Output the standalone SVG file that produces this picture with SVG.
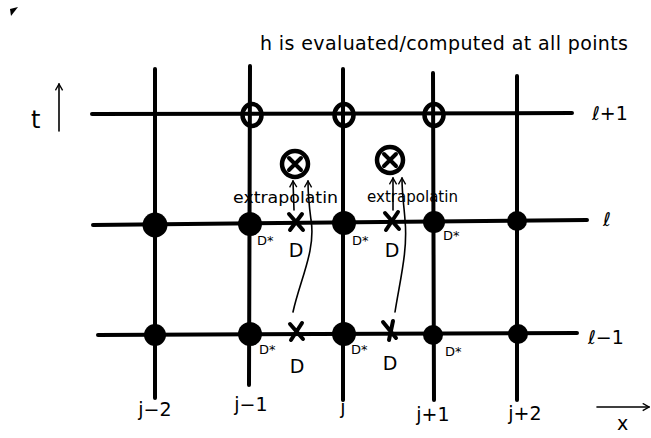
<svg xmlns="http://www.w3.org/2000/svg" width="651" height="438" viewBox="0 0 651 438">
<defs>
<style>
.ln{stroke:#000;stroke-width:4;stroke-linecap:round;fill:none}
.thin{stroke:#000;stroke-width:1.6;stroke-linecap:round;fill:none}
.dot{fill:#000}
.ocirc{fill:none;stroke:#000;stroke-width:4.5}
.tx{font-family:"DejaVu Sans","Liberation Sans",sans-serif;fill:#000}
.lbl{font-size:19px}
.ds{font-size:13px}
.ex{font-size:16px}
</style>
<marker id="ah" viewBox="0 0 10 10" refX="9" refY="5" markerWidth="9" markerHeight="9" orient="auto" markerUnits="userSpaceOnUse">
<path d="M2,1 L9,5 L2,9" fill="none" stroke="#000" stroke-width="1.5"/>
</marker>
</defs>
<rect width="651" height="438" fill="#fff"/>
<polygon points="10,9 18,7 11,16" fill="#000"/>

<text class="tx" x="260" y="50" font-size="19" textLength="368" lengthAdjust="spacing">h is evaluated/computed at all points</text>

<g id="axis-t">
<text class="tx" x="31" y="128" font-size="24">t</text>
<line class="thin" x1="59" y1="131" x2="59" y2="84" marker-end="url(#ah)"/>
</g>
<g id="axis-x">
<line class="thin" x1="597" y1="407" x2="649" y2="407" marker-end="url(#ah)"/>
<text class="tx lbl" x="617" y="430">x</text>
</g>

<g id="grid">
<line class="ln" x1="92" y1="114" x2="572" y2="113"/>
<line class="ln" x1="93" y1="225" x2="587" y2="220"/>
<line class="ln" x1="98" y1="335" x2="577" y2="333"/>
<line class="ln" x1="155" y1="69" x2="155" y2="398"/>
<line class="ln" x1="250" y1="66" x2="249" y2="385"/>
<line class="ln" x1="343" y1="69" x2="343" y2="400"/>
<line class="ln" x1="433" y1="73" x2="434" y2="400"/>
<line class="ln" x1="517" y1="76" x2="517" y2="400"/>
</g>

<g id="row-labels">
<text class="tx lbl" x="592" y="120" font-size="20">ℓ+1</text>
<text class="tx lbl" x="603" y="226" font-size="20">ℓ</text>
<text class="tx lbl" x="588" y="344" font-size="20">ℓ−1</text>
</g>
<g id="col-labels">
<text class="tx lbl" x="155" y="416" text-anchor="middle">j−2</text>
<text class="tx lbl" x="251" y="411" text-anchor="middle">j−1</text>
<text class="tx lbl" x="343" y="414" text-anchor="middle">j</text>
<text class="tx lbl" x="433" y="421" text-anchor="middle">j+1</text>
<text class="tx lbl" x="525" y="420" text-anchor="middle">j+2</text>
</g>

<g id="n-l1-jm1"><ellipse class="ocirc" cx="252" cy="115" rx="9.5" ry="11"/></g>
<g id="n-l1-j"><ellipse class="ocirc" cx="344" cy="115" rx="9.5" ry="11"/></g>
<g id="n-l1-jp1"><ellipse class="ocirc" cx="434" cy="115" rx="9.5" ry="11"/></g>

<g id="n-ex1"><circle class="ocirc" cx="295" cy="164" r="13" stroke-width="5"/><path class="ln" d="M289,158 L301,170 M301,158 L289,170"/></g>
<g id="n-ex2"><circle class="ocirc" cx="390" cy="160" r="13" stroke-width="5"/><path class="ln" d="M384,154 L396,166 M396,154 L384,166"/></g>
<text class="tx ex" x="233" y="203" textLength="105" lengthAdjust="spacingAndGlyphs">extrapolatin</text>
<text class="tx ex" x="367" y="202" textLength="91" lengthAdjust="spacingAndGlyphs">extrapolatin</text>

<g id="n-l-jm2"><circle class="dot" cx="155" cy="225" r="12.5"/></g>
<g id="n-l-jm1"><circle class="dot" cx="250" cy="224" r="12"/><text class="tx ds" x="257" y="245">D*</text></g>
<g id="n-l-j"><circle class="dot" cx="344" cy="223" r="12"/><text class="tx ds" x="352" y="245">D*</text></g>
<g id="n-l-jp1"><circle class="dot" cx="434" cy="222" r="11"/><text class="tx ds" x="443" y="240">D*</text></g>
<g id="n-l-jp2"><circle class="dot" cx="517" cy="221" r="10"/></g>

<g id="n-lm1-jm2"><circle class="dot" cx="155" cy="335" r="11"/></g>
<g id="n-lm1-jm1"><circle class="dot" cx="250" cy="334" r="12"/><text class="tx ds" x="259" y="354">D*</text></g>
<g id="n-lm1-j"><circle class="dot" cx="344" cy="334" r="12"/><text class="tx ds" x="351" y="354">D*</text></g>
<g id="n-lm1-jp1"><circle class="dot" cx="433" cy="335" r="10"/><text class="tx ds" x="445" y="356">D*</text></g>
<g id="n-lm1-jp2"><circle class="dot" cx="518" cy="334" r="10"/></g>

<g id="n-D1"><path class="ln" d="M289,214 L303,230 M302,214 L290,230"/><text class="tx lbl" x="296" y="257" text-anchor="middle">D</text></g>
<g id="n-D2"><path class="ln" d="M385,213 L399,229 M398,212 L386,230"/><text class="tx lbl" x="392" y="257" text-anchor="middle">D</text></g>
<g id="n-D3"><path class="ln" d="M290,324 L303,339 M302,323 L291,340"/><text class="tx lbl" x="297" y="373" text-anchor="middle">D</text></g>
<g id="n-D4"><path class="ln" d="M383,322 L396,338 M393,321 L389,340"/><text class="tx lbl" x="390" y="370" text-anchor="middle">D</text></g>

<g id="connectors">
<path class="thin" d="M294,210 L293,181" marker-end="url(#ah)"/>
<path class="thin" d="M293,312 C300,280 316,250 311,220 C309,205 308,195 308,181" marker-end="url(#ah)"/>
<path class="thin" d="M393,210 L393,178" marker-end="url(#ah)"/>
<path class="thin" d="M395,312 C400,280 408,250 405,220 C404,205 402,195 402,178" marker-end="url(#ah)"/>
</g>
</svg>
